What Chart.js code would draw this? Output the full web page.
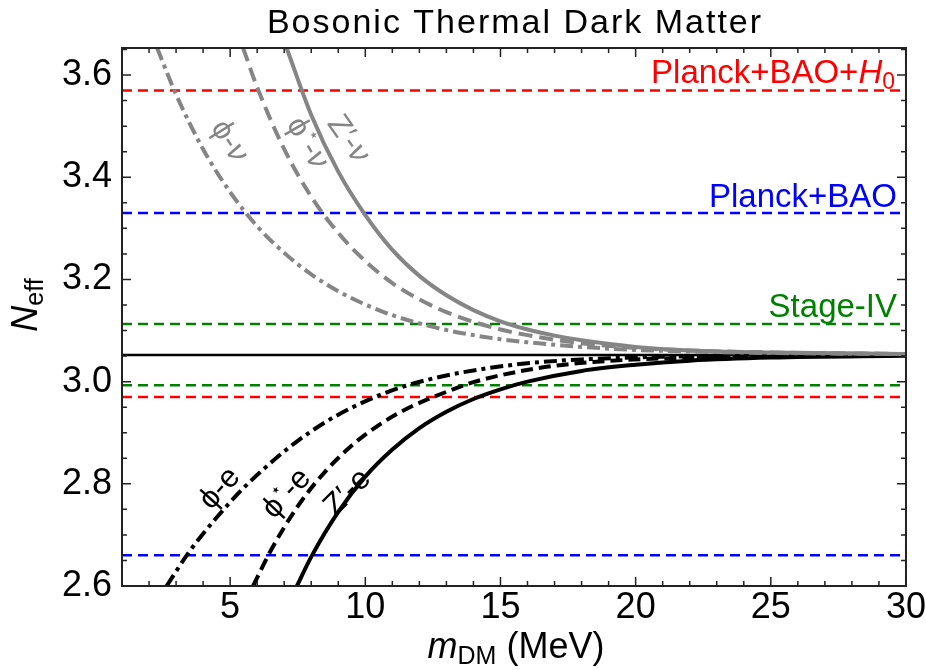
<!DOCTYPE html>
<html>
<head>
<meta charset="utf-8">
<script src="https://cdn.jsdelivr.net/npm/chart.js@4.4.1/dist/chart.umd.min.js"></script>
<style>html,body{margin:0;padding:0;background:#fff}</style>
</head>
<body>
<canvas id="myChart" width="926" height="670"></canvas>
<script>
// curves: m_DM (MeV) -> N_eff
const mZpNu = [7.09, 8, 9, 10, 11, 12, 13, 14, 15, 16, 17, 18, 20, 22, 25, 30];
const nZpNu = [3.653, 3.522, 3.411, 3.326, 3.258, 3.207, 3.169, 3.14, 3.118, 3.102, 3.09, 3.081, 3.068, 3.061, 3.057, 3.054];
const mPsNu = [5.48, 6, 7, 8, 9, 10, 11, 12, 13, 14, 15, 16, 18, 20, 22, 25, 30];
const nPsNu = [3.653, 3.576, 3.455, 3.362, 3.291, 3.236, 3.193, 3.161, 3.136, 3.117, 3.102, 3.091, 3.075, 3.066, 3.061, 3.057, 3.054];
const mPhNu = [2.3, 3, 4, 5, 6, 7, 8, 9, 10, 11, 12, 13, 14, 15, 16, 18, 20, 22, 25, 30];
const nPhNu = [3.653, 3.562, 3.455, 3.371, 3.304, 3.252, 3.21, 3.177, 3.151, 3.13, 3.114, 3.101, 3.091, 3.083, 3.077, 3.068, 3.062, 3.059, 3.056, 3.054];

const mZpE = [7.47, 8, 9, 10, 11, 12, 13, 14, 15, 16, 18, 20, 22, 25, 30];
const nZpE = [2.6, 2.657, 2.745, 2.814, 2.867, 2.909, 2.941, 2.966, 2.985, 3.0, 3.021, 3.033, 3.041, 3.047, 3.0505];
const mPsE = [5.85, 6.5, 7.5, 8.5, 9.5, 10.5, 11.5, 13, 14, 15.5, 17, 19, 22, 25, 30];
const nPsE = [2.6, 2.669, 2.756, 2.823, 2.875, 2.915, 2.946, 2.98, 2.999, 3.018, 3.031, 3.0405, 3.047, 3.05, 3.052];
const mPhE = [2.65, 3.5, 4.5, 5.5, 6.5, 7.5, 8.5, 9.5, 10.5, 11.5, 13, 14.5, 16, 18, 21, 25, 30];
const nPhE = [2.6, 2.668, 2.734, 2.792, 2.841, 2.884, 2.92, 2.949, 2.973, 2.992, 3.012, 3.026, 3.036, 3.0434, 3.0487, 3.051, 3.052];

// horizontal bands (lower, upper)
const planckBaoH0 = [2.97, 3.57];
const planckBao = [2.66, 3.33];
const stageIV = [2.993, 3.113];
const neffSM = 3.052;

const xRange = [1, 30];
const yRange = [2.6, 3.653];
const xTicks = [5, 10, 15, 20, 25, 30];
const yTicks = [2.6, 2.8, 3.0, 3.2, 3.4, 3.6];

const FONT = '"Liberation Sans", Arial, Helvetica, sans-serif';
const pts = (ms, ns) => ms.map((m, i) => ({x: m, y: ns[i]}));
const hline = v => [{x: xRange[0], y: v}, {x: xRange[1], y: v}];

function curve(ms, ns, color, dash) {
    return {data: pts(ms, ns), borderColor: color, borderWidth: 4, borderDash: dash,
            cubicInterpolationMode: 'monotone', pointRadius: 0, fill: false};
}
function band(v, color) {
    return {data: hline(v), borderColor: color, borderWidth: 2.5, borderDash: [10, 6], pointRadius: 0, fill: false};
}

const DASH = [12, 6];
const DASHDOT = [13, 5, 4, 5];
const GRAY = '#858585';

const datasets = [
    curve(mZpNu, nZpNu, GRAY, []),
    curve(mPsNu, nPsNu, GRAY, [14, 7]),
    curve(mPhNu, nPhNu, GRAY, DASHDOT),
    curve(mZpE, nZpE, '#000', []),
    curve(mPsE, nPsE, '#000', DASH),
    curve(mPhE, nPhE, '#000', DASHDOT),
    {data: hline(neffSM), borderColor: '#000', borderWidth: 2.5, pointRadius: 0},
    band(stageIV[0], '#008000'), band(stageIV[1], '#008000'),
    band(planckBao[0], '#0000ff'), band(planckBao[1], '#0000ff'),
    band(planckBaoH0[0], '#ff0000'), band(planckBaoH0[1], '#ff0000')
];

// draw a row of text pieces; x,y is the baseline start (align: left/center/right)
function drawPieces(ctx, pieces, x, y, align, color, angle) {
    ctx.save();
    ctx.translate(x, y);
    ctx.rotate((angle || 0) * Math.PI / 180);
    ctx.fillStyle = color;
    ctx.textBaseline = 'alphabetic';
    ctx.textAlign = 'left';
    let w = 0;
    pieces.forEach(p => { ctx.font = p.f; w += ctx.measureText(p.t).width; });
    let xx = align === 'center' ? -w / 2 : (align === 'right' ? -w : 0);
    pieces.forEach(p => {
        ctx.font = p.f;
        ctx.fillText(p.t, xx, p.dy || 0);
        xx += ctx.measureText(p.t).width;
    });
    ctx.restore();
}

const frameTicks = {
    id: 'frameTicks',
    afterDatasetsDraw(chart) {
        const {ctx, chartArea: a, scales: {x, y}} = chart;
        ctx.save();
        ctx.strokeStyle = '#222';
        ctx.lineWidth = 1.5;
        ctx.beginPath();
        for (let v = 1; v <= 30; v++) {
            const px = x.getPixelForValue(v);
            const L = v % 5 === 0 ? 9 : 5;
            ctx.moveTo(px, a.bottom); ctx.lineTo(px, a.bottom - L);
            ctx.moveTo(px, a.top); ctx.lineTo(px, a.top + L);
        }
        for (let i = 0; i <= 21; i++) {
            const v = 2.6 + i * 0.05;
            if (v > yRange[1]) break;
            const py = y.getPixelForValue(v);
            const L = i % 4 === 0 ? 9 : 5;
            ctx.moveTo(a.left, py); ctx.lineTo(a.left + L, py);
            ctx.moveTo(a.right, py); ctx.lineTo(a.right - L, py);
        }
        ctx.stroke();
        ctx.lineWidth = 2;
        ctx.strokeRect(a.left, a.top, a.right - a.left, a.bottom - a.top);
        ctx.restore();
    }
};

const texts = {
    id: 'texts',
    afterDraw(chart) {
        const ctx = chart.ctx;
        const a = chart.chartArea;
        const cx = (a.left + a.right) / 2;
        // title
        ctx.save();
        ctx.font = '34px ' + FONT;
        ctx.fillStyle = '#000';
        ctx.textAlign = 'center';
        ctx.textBaseline = 'alphabetic';
        ctx.letterSpacing = '2px';
        ctx.fillText('Bosonic Thermal Dark Matter', cx + 1, 33);
        ctx.restore();

        const big = '36px ' + FONT, bigI = 'italic 36px ' + FONT, sub = '25px ' + FONT;
        // axis titles
        drawPieces(ctx, [{t: 'm', f: bigI}, {t: 'DM', f: sub, dy: 6}, {t: ' (MeV)', f: big}], 516, 658, 'center', '#000', 0);
        drawPieces(ctx, [{t: 'N', f: bigI}, {t: 'eff', f: sub, dy: 6}], 37, 305, 'center', '#000', -90);

        // band labels
        const lab = '33px ' + FONT, labI = 'italic 33px ' + FONT, labS = '23px ' + FONT;
        drawPieces(ctx, [{t: 'Planck+BAO+', f: lab}, {t: 'H', f: labI}, {t: '0', f: labS, dy: 6}], 895, 83, 'right', '#ff0000', 0);
        drawPieces(ctx, [{t: 'Planck+BAO', f: lab}], 897, 207, 'right', '#0000ff', 0);
        drawPieces(ctx, [{t: 'Stage-IV', f: lab}], 897, 317, 'right', '#008000', 0);

        // curve labels (baseline placed so text is centred on point)
        const cf = '31px ' + FONT, cfi = 'italic 31px ' + FONT, sf = '18px ' + FONT;
        const cl = (pieces, x, y, ang, col) => {
            const r = ang * Math.PI / 180;
            const off = 11; // half cap height, shift baseline down in rotated frame
            drawPieces(ctx, pieces, x - Math.sin(r) * off, y + Math.cos(r) * off, 'center', col, ang);
        };
        cl([{t: 'ϕ-', f: cf}, {t: 'ν', f: cfi}], 231, 140, 58, GRAY);
        cl([{t: 'ϕ', f: cf}, {t: '⋆', f: sf, dy: -13}, {t: '-', f: cf}, {t: 'ν', f: cfi}], 309, 142, 60, GRAY);
        cl([{t: 'Z′-', f: cf}, {t: 'ν', f: cfi}], 350, 138, 55, GRAY);
        cl([{t: 'ϕ-e', f: cf}], 218, 487, -48, '#000');
        cl([{t: 'ϕ', f: cf}, {t: '⋆', f: sf, dy: -13}, {t: '-e', f: cf}], 285, 492, -47, '#000');
        cl([{t: 'Z′-e', f: cf}], 346, 491, -45, '#000');
    }
};

new Chart(document.getElementById('myChart').getContext('2d'), {
    type: 'line',
    data: {datasets: datasets},
    options: {
        responsive: false,
        animation: false,
        devicePixelRatio: 1,
        layout: {padding: {top: 48, right: 20, left: 0, bottom: 0}},
        plugins: {legend: {display: false}, tooltip: {enabled: false}, title: {display: false}},
        scales: {
            x: {
                type: 'linear', min: xRange[0], max: xRange[1],
                grid: {display: false, drawTicks: false}, border: {display: false},
                ticks: {color: '#000', font: {family: FONT, size: 36}, padding: 0, maxRotation: 0},
                afterBuildTicks: s => { s.ticks = xTicks.map(v => ({value: v})); },
                afterFit: s => { s.height = 84; }
            },
            y: {
                type: 'linear', min: yRange[0], max: yRange[1],
                grid: {display: false, drawTicks: false}, border: {display: false},
                ticks: {color: '#000', font: {family: FONT, size: 36}, padding: 10,
                        callback: v => v.toFixed(1)},
                afterBuildTicks: s => { s.ticks = yTicks.map(v => ({value: v})); },
                afterFit: s => { s.width = 122; }
            }
        }
    },
    plugins: [frameTicks, texts]
});
</script>
</body>
</html>
